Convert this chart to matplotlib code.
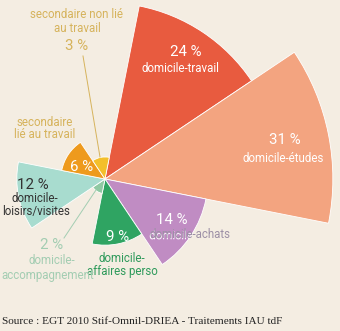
import matplotlib.pyplot as plt
from matplotlib.patches import Wedge, PathPatch
from matplotlib.textpath import TextPath
from matplotlib.font_manager import FontProperties
from matplotlib.transforms import Affine2D

# parts des déplacements par motif (%)
motifs = ['domicile-travail', 'domicile-études', 'domicile-achats', 'domicile-affaires perso',
          'domicile-accompagnement', 'domicile-loisirs/visites', 'secondaire lié au travail',
          'secondaire non lié au travail']
parts = [24, 31, 14, 9, 2, 12, 6, 3]
couleurs = ['#E85B3F', '#F3A480', '#C08CC3', '#2FA462', '#8FC9A3', '#A8DCCF', '#EE9A1D', '#F3BF2B']

bg = '#F4EDE2'
plt.rcParams['font.family'] = ['Roboto', 'DejaVu Sans']

fig = plt.figure(figsize=(3.4, 3.31), dpi=100, facecolor=bg)
ax = fig.add_axes([0, 0, 1, 1])
ax.set_facecolor(bg)

# repère en pixels -> données (centre du graphique à 105,179 px)
s = 7.35
cx, cy = 105, 179


def p(x, y):
    return (x - cx) / s, (cy - y) / s


ax.set_xlim(-cx / s, (340 - cx) / s)
ax.set_ylim(-(331 - cy) / s, cy / s)
ax.axis('off')

# secteurs de même angle, rayon proportionnel à la part
start = 78.8
step = 360 / len(parts)
wedges = []
for i, (v, c) in enumerate(zip(parts, couleurs)):
    t2 = start - i * step
    t1 = t2 - step
    w = Wedge((0, 0), v, t1, t2, facecolor=c, edgecolor='white', linewidth=0.6)
    ax.add_patch(w)
    wedges.append(w)

big = 10.8
small = 8.3


def lab(x, y, txt, color, size=small):
    ax.text(*p(x, y), txt, color=color, fontsize=size, ha='center', va='center')


lab(186, 52, '24 %', 'white', big)
lab(180, 68, 'domicile-travail', 'white')

lab(285, 140, '31 %', 'white', big)
lab(283, 158, 'domicile-études', 'white')

lab(172, 220, '14 %', 'white', big)
lab(190, 235, 'domicile-achats', '#9D90A6')
# partie blanche du texte, découpée par le secteur violet
tp = TextPath((0, 0), 'domicile-achats', size=small, prop=FontProperties(family='Roboto'))
bb = tp.get_extents()
k = (100 / 72) / s
tr = Affine2D().translate(-(bb.x0 + bb.x1) / 2, -(bb.y0 + bb.y1) / 2).scale(k).translate(*p(190, 235))
pp = PathPatch(tr.transform_path(tp), facecolor='white', edgecolor='none')
ax.add_patch(pp)
pp.set_clip_path(wedges[2])

lab(118, 237, '9 %', 'white', big)
lab(122, 258, 'domicile-', '#2E9A5B')
lab(122, 271, 'affaires perso', '#2E9A5B')

lab(52, 245, '2 %', '#A3CDB2', big)
lab(52, 261, 'domicile-', '#A3CDB2')
lab(48, 275, 'accompagnement', '#A3CDB2')
ax.plot(*zip(p(64, 238), p(96, 190)), color='#A3CDB2', lw=0.7)

lab(33, 185, '12 %', '#333333', big)
lab(35, 198, 'domicile-', '#333333')
lab(36, 211, 'loisirs/visites', '#333333')

lab(82, 167, '6 %', 'white', big)
lab(45, 122, 'secondaire', '#D6B35C')
lab(45, 135, 'lié au travail', '#D6B35C')

lab(77, 15, 'secondaire non lié', '#D6B35C')
lab(77, 28, 'au travail', '#D6B35C')
lab(77, 46, '3 %', '#D6B35C', big)
ax.plot(*zip(p(83, 56), p(100, 157)), color='#D6B35C', lw=0.7)

ax.text(*p(2, 321), 'Source : EGT 2010 Stif-Omnil-DRIEA - Traitements IAU tdF', color='#222222',
        fontsize=8.1, family=['Liberation Serif', 'DejaVu Serif'], ha='left', va='center')

fig.savefig('out.png', dpi=100, facecolor=bg)
